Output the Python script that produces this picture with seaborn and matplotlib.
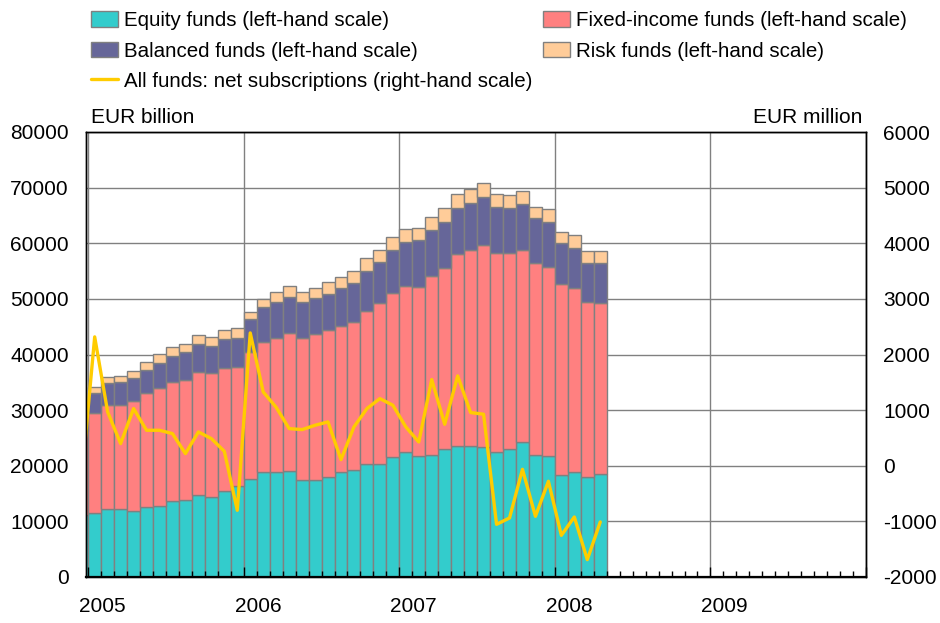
import numpy as np
import pandas as pd
import matplotlib
matplotlib.use("Agg")
import matplotlib.pyplot as plt
import matplotlib.transforms as mtransforms
from matplotlib.patches import Patch
from matplotlib.lines import Line2D
import seaborn as sns

# ---------------- data (Dec 2004 .. Apr 2008, monthly) ----------------
months = pd.date_range("2004-12-01", "2008-04-01", freq="MS")
equity = [11100, 11500, 12300, 12200, 11800, 12500, 12800, 13600, 13800, 14800, 14300, 15400, 16400,
          17700, 18800, 18800, 19100, 17400, 17500, 18000, 18800, 19200, 20300, 20400, 21500,
          22400, 21800, 22000, 23100, 23600, 23600, 23400, 22400, 23100, 24200, 22000, 21800,
          18400, 18800, 17900, 18600]
fixed_income = [15200, 17900, 18600, 18800, 19800, 20500, 21200, 21500, 21700, 22100, 22300, 22100, 21300,
                22700, 23400, 24100, 24700, 25500, 26100, 26400, 26400, 26700, 27600, 28900, 29500,
                30000, 30400, 32200, 32500, 34400, 35200, 36300, 35900, 35100, 34600, 34400, 34000,
                34200, 33200, 31600, 30700]
balanced = [3900, 3700, 3900, 4000, 4200, 4300, 4500, 4700, 4900, 5000, 5000, 5200, 5300,
            5900, 6300, 6600, 6600, 6500, 6500, 6500, 6700, 7000, 7200, 7400, 7700,
            7900, 8300, 8100, 8200, 8400, 8500, 8600, 8300, 8200, 8300, 8100, 8100,
            7400, 7200, 7000, 7100]
risk = [900, 1100, 1100, 1200, 1300, 1400, 1600, 1600, 1400, 1600, 1600, 1700, 1700,
        1400, 1500, 1700, 2000, 1900, 1900, 2100, 2000, 2200, 2200, 2100, 2400,
        2200, 2300, 2500, 2500, 2500, 2500, 2600, 2300, 2200, 2300, 2100, 2200,
        2100, 2200, 2100, 2200]
net_subscriptions = [-225, 2317, 968, 398, 1028, 638, 638, 578, 218, 608, 488, 260, -801,
                     2388, 1327, 1050, 668, 650, 728, 788, 110, 698, 1028, 1207, 1088,
                     698, 428, 1549, 746, 1615, 956, 926, -1053, -939, -64, -909, -279,
                     -1251, -921, -1688, -1011]

series_names = ["Equity funds (left-hand scale)", "Fixed-income funds (left-hand scale)",
                "Balanced funds (left-hand scale)", "Risk funds (left-hand scale)"]
line_name = "All funds: net subscriptions (right-hand scale)"
year_labels = ["2005", "2006", "2007", "2008", "2009"]
left_ticks = [0, 10000, 20000, 30000, 40000, 50000, 60000, 70000, 80000]
right_ticks = [-2000, -1000, 0, 1000, 2000, 3000, 4000, 5000, 6000]
colors = {"Equity funds (left-hand scale)": "#33CCCC",
          "Fixed-income funds (left-hand scale)": "#FF8080",
          "Balanced funds (left-hand scale)": "#666699",
          "Risk funds (left-hand scale)": "#FFCC99"}
line_color = "#FFCC00"

# month position: Jan 2005 = 0 at left edge of its slot
pos = np.array([(d.year - 2005) * 12 + (d.month - 1) for d in months]) + 0.5

rows = []
for name, vals in zip(series_names, [equity, fixed_income, balanced, risk]):
    for p, v in zip(pos, vals):
        rows.append({"pos": p, "value": v, "fund": name})
df = pd.DataFrame(rows)

# ---------------- figure ----------------
sns.set_theme(style="white")
plt.rcParams["font.family"] = ["Liberation Sans", "DejaVu Sans"]
plt.rcParams["text.color"] = "black"
plt.rcParams["xtick.color"] = "black"
plt.rcParams["ytick.color"] = "black"
plt.rcParams["axes.labelcolor"] = "black"
FS = 15
LFS = 14.8

fig = plt.figure(figsize=(9.4, 6.23), dpi=100)
ax = fig.add_axes([86 / 940, 46 / 623, 780 / 940, 445 / 623])

# stacked bars (last hue level sits at the bottom in seaborn stacking)
sns.histplot(data=df, x="pos", weights="value", hue="fund",
             hue_order=series_names[::-1], palette=colors,
             multiple="stack", binwidth=1, binrange=(-1, 40), stat="count",
             element="bars", alpha=1, edgecolor="#808080", linewidth=1,
             legend=False, ax=ax)

ax.set_xlim(-0.17, 60)
ax.set_ylim(0, 80000)
ax.set_yticks(left_ticks)
ax.set_yticklabels([str(t) for t in left_ticks], fontsize=FS, color="black")
ax.set_xlabel("")
ax.set_ylabel("")
ax.set_axisbelow(True)
ax.grid(False)
ax.set_xticks(np.arange(0, 61, 12))
ax.xaxis.grid(True, color="#808080", linewidth=1)
ax.yaxis.grid(True, color="#808080", linewidth=1)
ax.tick_params(axis="x", which="both", length=0, labelbottom=False)
ax.tick_params(axis="y", length=0, pad=12.5, labelcolor="black")

# line on right-hand scale
ax2 = ax.twinx()
sns.lineplot(x=pos, y=net_subscriptions, ax=ax2, color=line_color, linewidth=2.4)
ax2.set_ylim(-2000, 6000)
ax2.set_yticks(right_ticks)
ax2.set_yticklabels([str(t) for t in right_ticks], fontsize=FS, color="black")
ax2.tick_params(axis="y", length=0, pad=12.5, labelcolor="black")
ax2.set_ylabel("")
ax2.set_xlim(-0.17, 60)
ax2.grid(False)

# month ticks on top of bars (bottom, pointing inward)
ax2.xaxis.set_visible(True)
ax2.set_xticks(np.arange(0, 61, 12))
ax2.set_xticks(np.arange(0, 61, 1), minor=True)
ax2.tick_params(axis="x", which="major", direction="in", length=7, width=1, color="black",
                labelbottom=False, bottom=True, top=False)
ax2.tick_params(axis="x", which="minor", direction="in", length=4, width=1, color="black",
                bottom=True, top=False)

for a in (ax, ax2):
    for s in a.spines.values():
        s.set_visible(True)
        s.set_color("black")
        s.set_linewidth(1)
ax2.spines["bottom"].set_linewidth(1.6)

# year labels
trans = mtransforms.blended_transform_factory(ax.transData, ax.transAxes)
for i, lab in enumerate(year_labels):
    ax.text(i * 12 + 1.1, -30 / 445, lab, transform=trans, ha="center", va="center",
            fontsize=FS, color="black")

# axis unit labels
ax.text(0.006, 1.012, "EUR billion", transform=ax.transAxes, ha="left", va="bottom",
        fontsize=FS, color="black")
ax.text(0.995, 1.012, "EUR million", transform=ax.transAxes, ha="right", va="bottom",
        fontsize=FS, color="black")

# legend
handles = [Patch(facecolor=colors[series_names[0]], edgecolor="#808080", label=series_names[0]),
           Patch(facecolor=colors[series_names[2]], edgecolor="#808080", label=series_names[2]),
           Line2D([0], [0], color=line_color, linewidth=2.4, label=line_name),
           Patch(facecolor=colors[series_names[1]], edgecolor="#808080", label=series_names[1]),
           Patch(facecolor=colors[series_names[3]], edgecolor="#808080", label=series_names[3])]
leg = fig.legend(handles=handles, ncol=2, loc="upper left", bbox_to_anchor=(80 / 940, 1.0),
                 frameon=False, fontsize=LFS, handlelength=1.3, handleheight=0.8,
                 handletextpad=0.3, columnspacing=0.5, labelspacing=0.55, borderaxespad=0.15)
for t in leg.get_texts():
    t.set_color("black")

fig.savefig("out.png", dpi=100)
